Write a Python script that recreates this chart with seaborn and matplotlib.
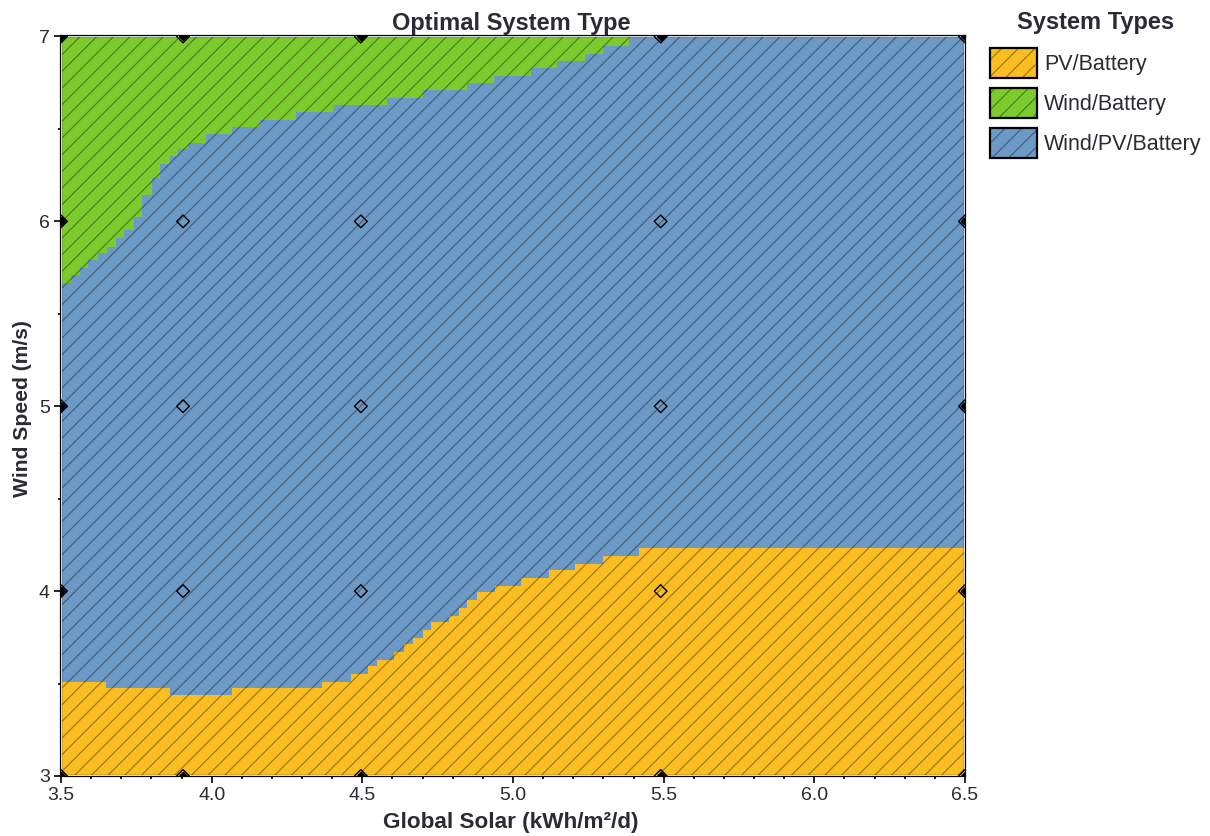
import itertools

import pandas as pd
import matplotlib
matplotlib.use('Agg')
import matplotlib.pyplot as plt
import seaborn as sns
from matplotlib.patches import Patch, Rectangle
from matplotlib.ticker import MultipleLocator

# boundary between PV/Battery and Wind/PV/Battery
pv_solar = [3.5, 3.649, 3.862, 4.067, 4.366, 4.462, 4.519, 4.549, 4.605, 4.638, 4.668, 4.701,
            4.728, 4.788, 4.821, 4.847, 4.881, 4.940, 5.027, 5.119, 5.206, 5.299, 5.418, 6.5]
pv_wind = [3.509, 3.476, 3.438, 3.476, 3.509, 3.552, 3.595, 3.628, 3.671, 3.714, 3.747, 3.790,
           3.834, 3.866, 3.909, 3.953, 3.996, 4.028, 4.072, 4.115, 4.148, 4.191, 4.234, 4.234]

# boundary between Wind/Battery and Wind/PV/Battery
wind_solar = [3.5, 3.533, 3.563, 3.590, 3.623, 3.653, 3.683, 3.709, 3.742, 3.769, 3.802, 3.829,
              3.862, 3.888, 3.921, 3.981, 4.067, 4.160, 4.280, 4.403, 4.582, 4.701, 4.847, 4.937,
              5.060, 5.146, 5.239, 5.299, 5.385]
wind_wind = [5.669, 5.712, 5.750, 5.793, 5.831, 5.863, 5.912, 5.955, 6.026, 6.145, 6.232, 6.313,
             6.356, 6.389, 6.426, 6.470, 6.508, 6.551, 6.594, 6.627, 6.670, 6.713, 6.746, 6.789,
             6.832, 6.865, 6.908, 6.951, 7.0]

design_solar = [3.5, 3.905, 4.495, 5.49, 6.5]
design_wind = [3, 4, 5, 6, 7]

system_types = ['PV/Battery', 'Wind/Battery', 'Wind/PV/Battery']
system_colors = ['#FBBE22', '#7BCB2E', '#6C99C6']

HATCH_COLOR = (0, 0, 0, 0.38)
TEXT_COLOR = '#2b2b33'

sns.set_theme(style='ticks')
plt.rcParams['font.family'] = ['Liberation Sans', 'DejaVu Sans']
plt.rcParams['hatch.linewidth'] = 0.85

fig = plt.figure(figsize=(12.1, 8.36), dpi=100)
ax = fig.add_axes([61 / 1210, 1 - 776 / 836, 904 / 1210, 739.5 / 836])

# blue is the whole plane, the other two regions sit on top of it
ax.fill_between([3.5, 6.5], 3, 7, facecolor=system_colors[2], edgecolor=HATCH_COLOR,
                hatch='//', linewidth=0)
ax.fill_between(pv_solar, 3, pv_wind, step='post', facecolor=system_colors[0],
                edgecolor=HATCH_COLOR, hatch='//', linewidth=0)
ax.fill_between(wind_solar, wind_wind, 7, step='post', facecolor=system_colors[1],
                edgecolor=HATCH_COLOR, hatch='//', linewidth=0)

ax.add_patch(Rectangle((0, 0), 1, 1, transform=ax.transAxes, fill=False, edgecolor='white',
                       linewidth=1.2, zorder=3))

points = pd.DataFrame(list(itertools.product(design_solar, design_wind)), columns=['solar', 'wind'])
edge = ~(points['solar'].between(3.6, 6.4) & points['wind'].between(3.5, 6.5))
sns.scatterplot(data=points, x='solar', y='wind', marker='D', s=42, facecolor='none',
                edgecolor='black', linewidth=1.0, ax=ax, zorder=4)
# points on the frame look filled where they meet it
sns.scatterplot(data=points[edge], x='solar', y='wind', marker='D', s=14, facecolor='black',
                edgecolor='black', linewidth=1.5, ax=ax, zorder=4)

ax.set_xlim(3.5, 6.5)
ax.set_ylim(3, 7)
ax.xaxis.set_major_locator(MultipleLocator(0.5))
ax.xaxis.set_minor_locator(MultipleLocator(0.1))
ax.yaxis.set_major_locator(MultipleLocator(1))
ax.yaxis.set_minor_locator(MultipleLocator(0.5))
ax.set_xticklabels([f'{x:.1f}' for x in ax.get_xticks()])
ax.tick_params(which='major', length=5, width=1.2, color='black', labelsize=14,
               labelcolor=TEXT_COLOR, pad=3)
ax.tick_params(which='minor', length=2.5, width=1.2, color='black')
for spine in ax.spines.values():
    spine.set_visible(True)
    spine.set_linewidth(1.6)
    spine.set_color('black')

ax.set_title('Optimal System Type', fontsize=17, fontweight='bold', color=TEXT_COLOR, pad=5, x=0.498)
ax.set_xlabel('Global Solar (kWh/m²/d)', fontsize=16.2, fontweight='bold', color=TEXT_COLOR,
              labelpad=6, x=0.4975)
ax.set_ylabel('Wind Speed (m/s)', fontsize=15.2, fontweight='bold', color=TEXT_COLOR,
              labelpad=5, y=0.4975)

handles = []
for label, color in zip(system_types, system_colors):
    handle = Patch(facecolor=color, edgecolor='black', linewidth=1.6, hatch='//', label=label)
    handle._hatch_color = HATCH_COLOR
    handles.append(handle)
legend = fig.legend(handles=handles, title='System Types', loc='upper left',
                    bbox_to_anchor=(981.5 / 1210, 1 - 2 / 836), frameon=False, fontsize=15.5,
                    title_fontproperties={'weight': 'bold', 'size': 17},
                    handlelength=2.19, handleheight=1.77, labelspacing=0.465, handletextpad=0.33,
                    borderaxespad=0, borderpad=0.4)
legend._legend_box.sep += 2.9
legend.get_title().set_color(TEXT_COLOR)
for text in legend.get_texts():
    text.set_color(TEXT_COLOR)

fig.savefig('out.png', dpi=100)
